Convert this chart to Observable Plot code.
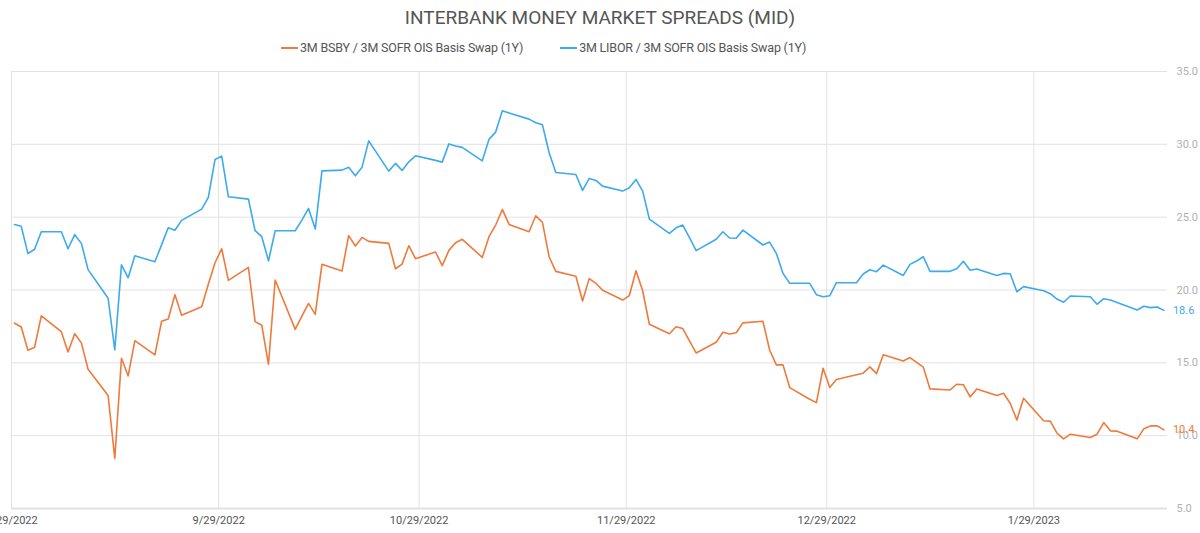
<!DOCTYPE html>
<html>
<head>
<meta charset="utf-8">
<script src="https://cdn.jsdelivr.net/npm/d3@7"></script>
<script src="https://cdn.jsdelivr.net/npm/@observablehq/plot@0.6"></script>
<style>
  html, body { margin: 0; padding: 0; background: #fff; }
  body { width: 1200px; height: 533px; position: relative; overflow: hidden; font-family: Roboto, "Noto Sans", sans-serif; }
  #title { position: absolute; top: 6px; left: 0; width: 1200px; text-align: center; font-size: 19px; line-height: 24px; color: #555; }
  #legend { position: absolute; top: 39px; left: 281px; display: flex; font-size: 12.5px; line-height: 18px; color: #555; white-space: nowrap; letter-spacing: -0.2px; }
  .item { display: flex; align-items: center; margin-right: 37px; }
  .sw { display: inline-block; width: 17px; height: 0; border-top: 2px solid; margin-right: 2px; }
  #chart { position: absolute; top: 60px; left: 0; }
</style>
</head>
<body>
<div id="title">INTERBANK MONEY MARKET SPREADS (MID)</div>
<div id="legend"></div>
<div id="chart"></div>
<script>
const seriesNames = ["3M BSBY / 3M SOFR OIS Basis Swap (1Y)", "3M LIBOR / 3M SOFR OIS Basis Swap (1Y)"];
const seriesColors = ["#EF7A3B", "#3DAAEE"];

const dates = [
  "2022-08-29","2022-08-30","2022-08-31","2022-09-01","2022-09-02","2022-09-05","2022-09-06","2022-09-07","2022-09-08","2022-09-09",
  "2022-09-12","2022-09-13","2022-09-14","2022-09-15","2022-09-16","2022-09-19","2022-09-20","2022-09-21","2022-09-22","2022-09-23",
  "2022-09-26","2022-09-27","2022-09-28","2022-09-29","2022-09-30","2022-10-03","2022-10-04","2022-10-05","2022-10-06","2022-10-07",
  "2022-10-10","2022-10-11","2022-10-12","2022-10-13","2022-10-14","2022-10-17","2022-10-18","2022-10-19","2022-10-20","2022-10-21",
  "2022-10-24","2022-10-25","2022-10-26","2022-10-27","2022-10-28","2022-10-31","2022-11-01","2022-11-02","2022-11-03","2022-11-04",
  "2022-11-07","2022-11-08","2022-11-09","2022-11-10","2022-11-11","2022-11-14","2022-11-15","2022-11-16","2022-11-17","2022-11-18",
  "2022-11-21","2022-11-22","2022-11-23","2022-11-24","2022-11-25","2022-11-28","2022-11-29","2022-11-30","2022-12-01","2022-12-02",
  "2022-12-05","2022-12-06","2022-12-07","2022-12-08","2022-12-09","2022-12-12","2022-12-13","2022-12-14","2022-12-15","2022-12-16",
  "2022-12-19","2022-12-20","2022-12-21","2022-12-22","2022-12-23","2022-12-26","2022-12-27","2022-12-28","2022-12-29","2022-12-30",
  "2023-01-02","2023-01-03","2023-01-04","2023-01-05","2023-01-06","2023-01-09","2023-01-10","2023-01-11","2023-01-12","2023-01-13",
  "2023-01-16","2023-01-17","2023-01-18","2023-01-19","2023-01-20","2023-01-23","2023-01-24","2023-01-25","2023-01-26","2023-01-27",
  "2023-01-30","2023-01-31","2023-02-01","2023-02-02","2023-02-03","2023-02-06","2023-02-07","2023-02-08","2023-02-09","2023-02-10",
  "2023-02-13","2023-02-14","2023-02-15","2023-02-16","2023-02-17"
];

const bsby = [
  17.72,17.46,15.86,16.07,18.22,17.14,15.75,17.0,16.37,14.56,
  12.75,8.43,15.31,14.1,16.52,15.54,17.85,18.01,19.68,18.26,
  18.85,20.4,21.87,22.83,20.66,21.55,17.83,17.58,14.9,20.69,
  17.3,18.2,19.08,18.33,21.76,21.3,23.73,23.02,23.61,23.34,
  23.2,21.46,21.78,23.04,22.15,22.61,21.67,22.72,23.24,23.48,
  22.24,23.66,24.46,25.53,24.5,24.0,25.1,24.64,22.28,21.28,
  20.94,19.25,20.78,20.46,19.98,19.31,19.61,21.32,19.95,17.65,
  17.0,17.48,17.35,16.5,15.68,16.41,17.1,16.98,17.07,17.74,
  17.85,15.88,14.86,14.86,13.3,12.5,12.27,14.63,13.3,13.85,
  14.18,14.29,14.72,14.26,15.56,15.13,15.36,15.03,14.7,13.21,
  13.14,13.53,13.5,12.66,13.21,12.75,12.91,12.23,11.08,12.57,
  11.02,11.0,10.17,9.78,10.1,9.87,10.1,10.9,10.33,10.31,
  9.78,10.47,10.67,10.67,10.4
];

const libor = [
  24.5,24.37,22.5,22.8,24.0,24.0,22.83,23.8,23.2,21.4,
  19.43,15.88,21.73,20.84,22.35,21.94,23.1,24.27,24.1,24.78,
  25.55,26.36,28.96,29.19,26.4,26.24,24.07,23.66,22.0,24.07,
  24.07,24.8,25.6,24.18,28.18,28.23,28.42,27.84,28.42,30.24,
  28.16,28.69,28.21,28.8,29.21,28.9,28.78,30.03,29.88,29.79,
  28.87,30.34,30.84,32.3,32.15,31.73,31.48,31.34,29.42,28.07,
  27.93,26.84,27.66,27.52,27.13,26.79,27.02,27.59,26.79,24.87,
  23.89,24.27,24.46,23.6,22.7,23.48,24.0,23.57,23.55,24.11,
  23.09,23.29,22.52,21.14,20.46,20.46,19.68,19.54,19.61,20.5,
  20.5,21.1,21.39,21.26,21.71,21.0,21.76,21.99,22.28,21.28,
  21.28,21.46,21.97,21.35,21.44,21.0,21.14,21.12,19.88,20.23,
  19.95,19.75,19.38,19.16,19.59,19.54,19.02,19.4,19.31,19.14,
  18.63,18.88,18.79,18.83,18.6
];

const xTickDates = ["2022-08-29","2022-09-29","2022-10-29","2022-11-29","2022-12-29","2023-01-29"];
const yTicks = [5, 10, 15, 20, 25, 30, 35];
const xDomain = ["2022-08-29", "2023-02-18"];

const parse = d3.utcParse("%Y-%m-%d");
// observations are stamped late in the day relative to the date gridlines
const stamp = s => d3.utcHour.offset(parse(s), 11);

const rows = [];
[bsby, libor].forEach((vals, si) => {
  vals.forEach((v, i) => rows.push({date: stamp(dates[i]), value: v, series: seriesNames[si]}));
});
const lastRows = seriesNames.map(n => rows.filter(r => r.series === n).at(-1));

// legend
const legend = document.getElementById("legend");
seriesNames.forEach((n, i) => {
  const it = document.createElement("div");
  it.className = "item";
  const sw = document.createElement("span");
  sw.className = "sw";
  sw.style.borderTopColor = seriesColors[i];
  it.appendChild(sw);
  it.appendChild(document.createTextNode(n));
  legend.appendChild(it);
});

const chart = Plot.plot({
  width: 1200,
  height: 473,
  marginTop: 11,
  marginLeft: 11,
  marginRight: 33,
  marginBottom: 25,
  style: {fontFamily: "Roboto, 'Noto Sans', sans-serif", background: "transparent", overflow: "visible"},
  x: {type: "utc", domain: xDomain.map(parse)},
  y: {domain: [5, 35]},
  color: {domain: seriesNames, range: seriesColors},
  marks: [
    Plot.gridY(yTicks, {stroke: "#e2e2e2", strokeOpacity: 1, strokeWidth: 1}),
    Plot.gridX(xTickDates.map(parse), {stroke: "#e2e2e2", strokeOpacity: 1, strokeWidth: 1}),
    Plot.ruleY([5], {stroke: "#e2e2e2", strokeWidth: 2}),
    Plot.axisY(yTicks, {anchor: "right", tickSize: 0, tickPadding: 9, textAnchor: "start", tickFormat: d => d.toFixed(1), fill: "#b0b0b0", fontSize: 11, label: null}),
    Plot.axisX(xTickDates.map(parse), {anchor: "bottom", tickSize: 0, tickPadding: 8, tickFormat: d3.utcFormat("%-m/%-d/%Y"), fill: "#555", fontSize: 11, label: null}),
    Plot.line(rows, {x: "date", y: "value", z: "series", stroke: "series", strokeWidth: 1.6, curve: "linear"}),
    Plot.text(lastRows, {x: "date", y: "value", text: d => d.value.toFixed(1), fill: "series", dx: 9, textAnchor: "start", fontSize: 11})
  ]
});
document.getElementById("chart").appendChild(chart);
</script>
</body>
</html>
